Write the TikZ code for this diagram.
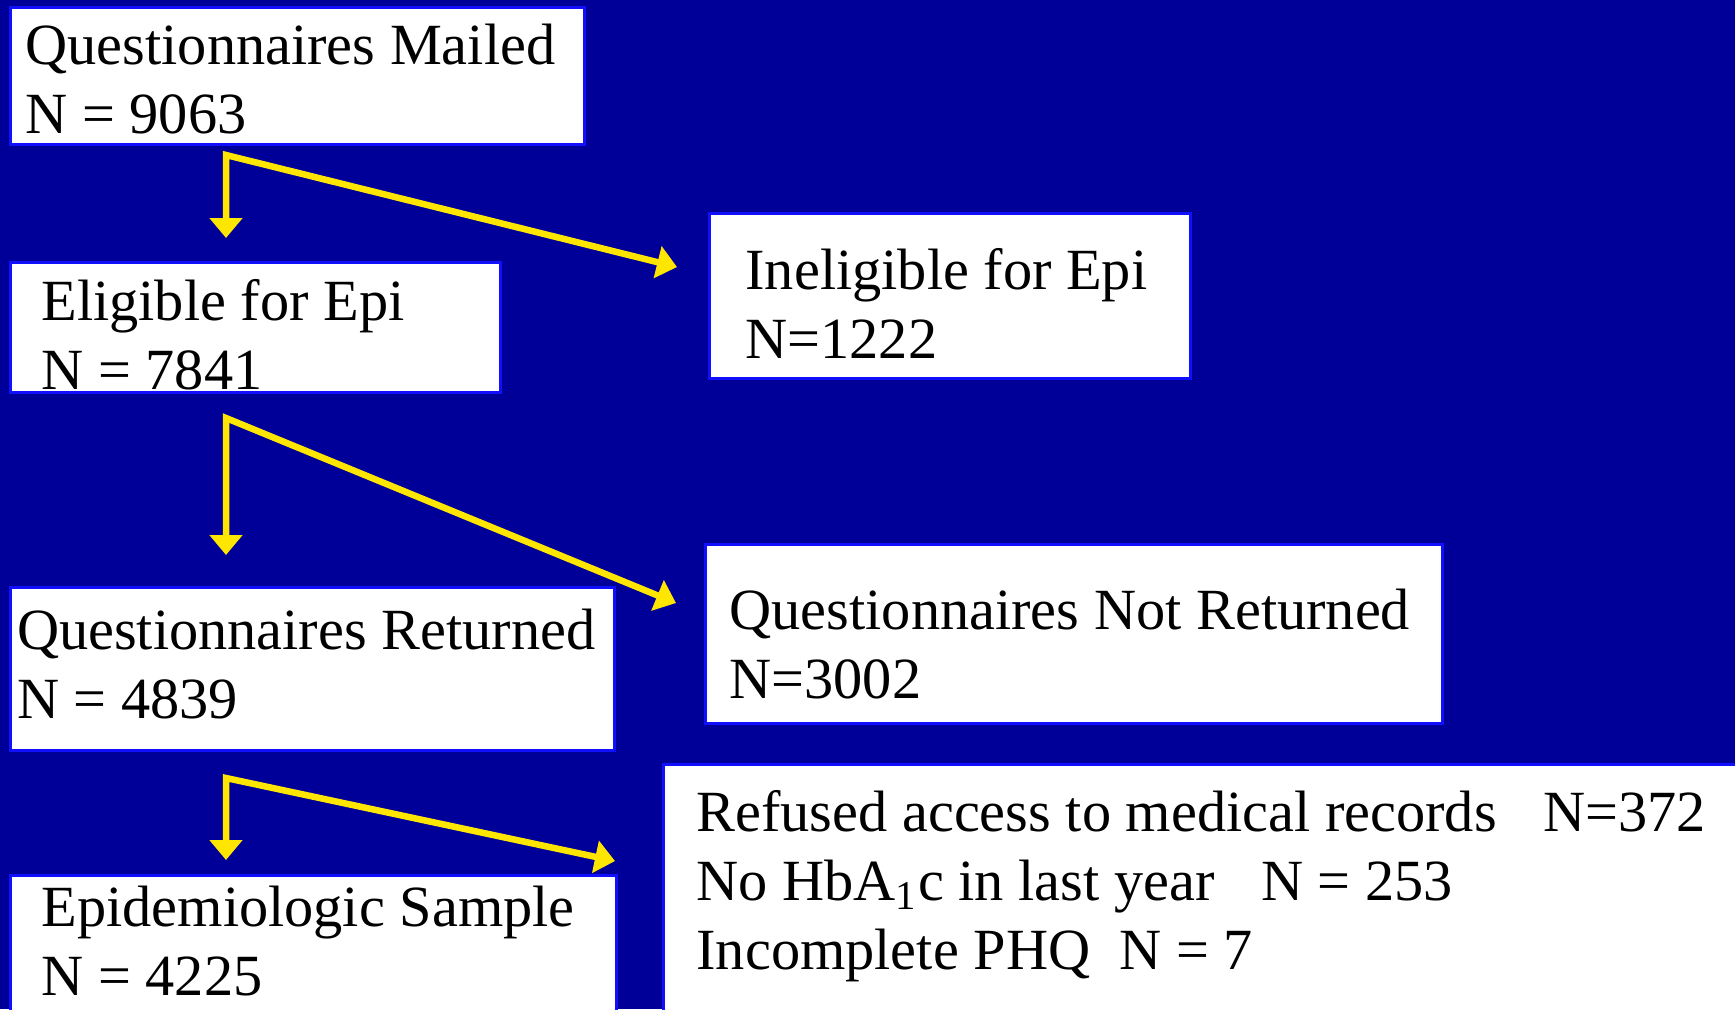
\documentclass[tikz,border=0pt]{standalone}
\usepackage{fontspec}
\setmainfont{Liberation Serif}
\usetikzlibrary{arrows.meta}

\definecolor{slide}{RGB}{0,0,153}
\definecolor{edge}{RGB}{16,16,255}
\definecolor{flowyellow}{RGB}{255,230,0}

\tikzset{
  box/.style={draw=edge, line width=0.03cm, fill=white, anchor=north west,
    align=flush left, inner ysep=0pt, font=\fontsize{16.6}{19.6}\selectfont},
  flow/.style={draw=flowyellow, line width=0.065cm, line join=miter,
    >={Triangle[length=0.2cm,width=0.32cm]}, <->}
}

\begin{document}
\begin{tikzpicture}
    \useasboundingbox (0,0) rectangle (17.35,-10.09);
    \fill[slide] (0,0) rectangle (17.35,-10.09);
    \node[box, inner xsep=0.15cm, text width=5.44cm, text height=0.575cm, text depth=0.8cm] (mailed) at (0.09,-0.055) {Questionnaires Mailed\\N = 9063};
    \node[box, inner xsep=0.31cm, text width=4.28cm, text height=0.58cm, text depth=0.72cm] (elig) at (0.09,-2.61) {Eligible for Epi\\N = 7841};
    \node[box, inner xsep=0.36cm, text width=4.09cm, text height=0.76cm, text depth=0.89cm] (inelig) at (7.08,-2.12) {Ineligible for Epi\\N=1222};
    \node[box, inner xsep=0.065cm, text width=5.91cm, text height=0.62cm, text depth=1.01cm] (returned) at (0.09,-5.86) {Questionnaires Returned\\N = 4839};
    \node[box, inner xsep=0.24cm, text width=6.89cm, text height=0.85cm, text depth=0.94cm] (notret) at (7.04,-5.43) {Questionnaires Not Returned\\N=3002};
    \node[box, inner xsep=0.31cm, text width=5.44cm, text height=0.51cm, text depth=1.5cm] (sample) at (0.09,-8.74) {Epidemiologic Sample\\N = 4225};
    \node[box, inner xsep=0.33cm, text width=10.34cm, text height=0.67cm, text depth=2.5cm] (excluded) at (6.62,-7.63) {Refused access to medical records\hspace{0.55em} N=372\\No HbA\textsubscript{1}c in last year\hspace{0.55em} N = 253\\Incomplete PHQ\hspace{0.25em} N = 7};
    \coordinate (k1) at (2.26,-1.55);
    \coordinate (k2) at (2.26,-4.18);
    \coordinate (k3) at (2.26,-7.78);
    \coordinate (t1) at (6.77,-2.67);
    \coordinate (t2) at (6.76,-6.03);
    \coordinate (t3) at (6.15,-8.61);
    \draw[flow, shorten <=0.23cm] (k1 |- elig.north) -- (k1) -- (t1);
    \draw[flow, shorten <=0.31cm] (k2 |- returned.north) -- (k2) -- (t2);
    \draw[flow, shorten <=0.14cm] (k3 |- sample.north) -- (k3) -- (t3);
  \end{tikzpicture}
\end{document}
